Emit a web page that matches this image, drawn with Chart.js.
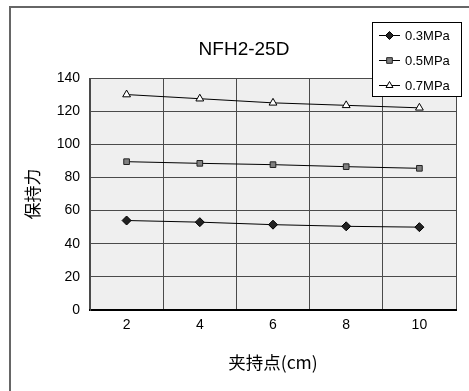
<!DOCTYPE html>
<html>
<head>
<meta charset="utf-8">
<script src="https://cdn.jsdelivr.net/npm/chart.js"></script>
<style>
  html, body { margin: 0; padding: 0; background: #ffffff; }
  #wrap { width: 469px; height: 391px; }
</style>
</head>
<body>
<div id="wrap"><canvas id="line-chart" width="469" height="391"></canvas></div>
<script>
const categories = ['2', '4', '6', '8', '10'];
const p03 = [54, 53, 51.5, 50.5, 50];
const p05 = [89.5, 88.5, 87.7, 86.5, 85.5];
const p07 = [130, 127.5, 125, 123.5, 122];
const yTicks = [0, 20, 40, 60, 80, 100, 120, 140];

const cjk = '"Noto Sans CJK SC", "Noto Sans", sans-serif';
const latin = '"Liberation Sans", Arial, sans-serif';

// background of plot area, outer frame, title and the boxed legend
const decor = {
	id: 'decor',
	beforeDraw: function(chart) {
		const ctx = chart.ctx;
		const a = chart.chartArea;
		ctx.save();
		ctx.fillStyle = '#efefef';
		ctx.fillRect(a.left, a.top, a.right - a.left, a.bottom - a.top);
		ctx.strokeStyle = '#666666';
		ctx.lineWidth = 2;
		ctx.beginPath();
		ctx.moveTo(10, 391);
		ctx.lineTo(10, 7);
		ctx.lineTo(469, 7);
		ctx.stroke();
		ctx.restore();
	},
	afterDraw: function(chart) {
		const ctx = chart.ctx;
		ctx.save();
		ctx.fillStyle = '#000000';
		ctx.font = '19px ' + latin;
		ctx.textAlign = 'center';
		ctx.textBaseline = 'middle';
		ctx.fillText('NFH2-25D', 244, 50);

		// legend
		ctx.fillStyle = '#ffffff';
		ctx.fillRect(372, 22, 90, 74);
		ctx.strokeStyle = '#000000';
		ctx.lineWidth = 1;
		ctx.strokeRect(372.5, 22.5, 89, 74);
		const rows = [35, 60, 85];
		chart.data.datasets.forEach(function(ds, i) {
			const y = rows[i];
			ctx.strokeStyle = '#000000';
			ctx.lineWidth = 1;
			ctx.beginPath();
			ctx.moveTo(379, y + 0.5);
			ctx.lineTo(400, y + 0.5);
			ctx.stroke();
			ctx.fillStyle = ds.pointBackgroundColor;
			ctx.strokeStyle = ds.pointBorderColor;
			if (Chart.helpers && Chart.helpers.drawPoint) {
				Chart.helpers.drawPoint(ctx, {
					pointStyle: ds.pointStyle,
					radius: 4,
					borderWidth: 1,
					rotation: 0
				}, 389.5, y + 0.5);
			}
			ctx.fillStyle = '#000000';
			ctx.font = '13px ' + latin;
			ctx.textAlign = 'left';
			ctx.textBaseline = 'middle';
			ctx.fillText(ds.label, 405, y + 1);
		});
		ctx.restore();
	}
};

const data = {
	labels: categories,
	datasets: [
		{
			label: '0.3MPa',
			data: p03,
			borderColor: '#000000',
			borderWidth: 1,
			pointStyle: 'rectRot',
			pointRadius: 4.5,
			pointBackgroundColor: '#222222',
			pointBorderColor: '#000000',
			pointBorderWidth: 1
		},
		{
			label: '0.5MPa',
			data: p05,
			borderColor: '#000000',
			borderWidth: 1,
			pointStyle: 'rect',
			pointRadius: 4,
			pointBackgroundColor: '#808080',
			pointBorderColor: '#222222',
			pointBorderWidth: 1
		},
		{
			label: '0.7MPa',
			data: p07,
			borderColor: '#000000',
			borderWidth: 1,
			pointStyle: 'triangle',
			pointRadius: 4.5,
			pointBackgroundColor: '#ffffff',
			pointBorderColor: '#000000',
			pointBorderWidth: 1
		}
	]
};

const config = {
	type: 'line',
	data: data,
	plugins: [decor],
	options: {
		responsive: false,
		animation: false,
		layout: {
			padding: { left: 20, right: 13, top: 78, bottom: 0 }
		},
		plugins: {
			legend: { display: false },
			title: { display: false },
			tooltip: { enabled: false }
		},
		scales: {
			x: {
				type: 'category',
				offset: true,
				afterFit: function(scale) { scale.height = 81; },
				grid: {
					offset: true,
					color: '#4a4a4a',
					lineWidth: 1,
					drawTicks: false
				},
				border: { color: '#000000', width: 2 },
				ticks: {
					color: '#000000',
					padding: 7,
					font: { family: latin, size: 14 }
				},
				title: {
					display: true,
					text: '夹持点(cm)',
					color: '#000000',
					padding: { top: 0, bottom: 18 },
					font: { family: cjk, size: 17.5 }
				}
			},
			y: {
				min: 0,
				max: 140,
				afterFit: function(scale) { scale.width = 70; },
				afterBuildTicks: function(scale) {
					scale.ticks = yTicks.map(function(v) { return { value: v }; });
				},
				grid: {
					color: '#4a4a4a',
					lineWidth: 1,
					drawTicks: false
				},
				border: { color: '#4a4a4a', width: 1 },
				ticks: {
					color: '#000000',
					padding: 10,
					font: { family: latin, size: 14 }
				},
				title: {
					display: true,
					text: '保持力',
					color: '#000000',
					padding: { top: 2, bottom: 0 },
					font: { family: cjk, size: 17 }
				}
			}
		}
	}
};

const myChart = new Chart(
	document.getElementById('line-chart'),
	config
);
</script>
</body>
</html>
